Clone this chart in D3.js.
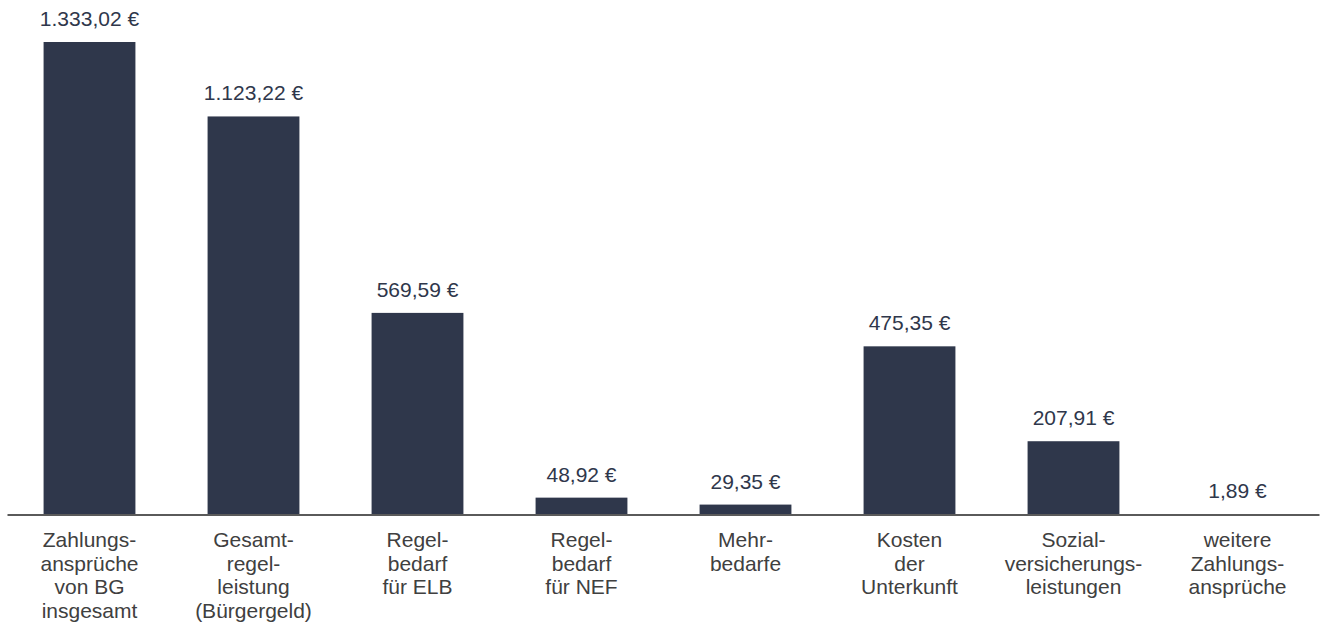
<!DOCTYPE html>
<html>
<head>
<meta charset="utf-8">
<script src="https://cdn.jsdelivr.net/npm/d3@7"></script>
<style>
  body { margin: 0; background: #fff; }
  text { font-family: Arial, "Liberation Sans", sans-serif; }
</style>
</head>
<body>
<div id="chart"></div>
<script>
// data
var categories = [
    ["Zahlungs-", "ansprüche", "von BG", "insgesamt"],
    ["Gesamt-", "regel-", "leistung", "(Bürgergeld)"],
    ["Regel-", "bedarf", "für ELB"],
    ["Regel-", "bedarf", "für NEF"],
    ["Mehr-", "bedarfe"],
    ["Kosten", "der", "Unterkunft"],
    ["Sozial-", "versicherungs-", "leistungen"],
    ["weitere", "Zahlungs-", "ansprüche"]
];
var values = [1333.02, 1123.22, 569.59, 48.92, 29.35, 475.35, 207.91, 1.89];

var width = 1322, height = 625;
var baseY = 515, topY = 42;

var svg = d3.select("#chart").append("svg")
    .attr("width", width)
    .attr("height", height);

var x = d3.scaleBand()
    .domain(d3.range(values.length))
    .range([7.5, 1319.5])
    .paddingInner(0.44)
    .paddingOuter(0.22);

var y = d3.scaleLinear()
    .domain([0, d3.max(values)])
    .range([baseY, topY]);

var fmt = d3.formatLocale({decimal: ",", thousands: ".", grouping: [3], currency: ["", " €"]}).format(",.2f");

//bars
svg.selectAll(".bar")
    .data(values)
    .enter().append("rect")
    .attr("class", "bar")
    .attr("x", (d, i) => x(i))
    .attr("y", d => y(d))
    .attr("width", x.bandwidth())
    .attr("height", d => baseY - y(d))
    .attr("fill", "#2f374b");

//value labels
svg.selectAll(".val")
    .data(values)
    .enter().append("text")
    .attr("class", "val")
    .attr("x", (d, i) => x(i) + x.bandwidth() / 2)
    .attr("y", d => y(d) - 16)
    .attr("text-anchor", "middle")
    .style("font-size", "21px")
    .attr("fill", "#2f374b")
    .text(d => fmt(d) + " €");

//baseline
svg.append("line")
    .attr("x1", 7.5)
    .attr("x2", 1319.5)
    .attr("y1", baseY)
    .attr("y2", baseY)
    .attr("stroke", "#5a5a5a")
    .attr("stroke-width", 2);

//category labels
var cat = svg.selectAll(".cat")
    .data(categories)
    .enter().append("text")
    .attr("class", "cat")
    .attr("text-anchor", "middle")
    .style("font-size", "21px")
    .attr("fill", "#404040");

cat.selectAll("tspan")
    .data((d, i) => d.map(s => ({s: s, i: i})))
    .enter().append("tspan")
    .attr("x", d => x(d.i) + x.bandwidth() / 2)
    .attr("y", (d, j) => baseY + 32 + j * 23.7)
    .text(d => d.s);
</script>
</body>
</html>
